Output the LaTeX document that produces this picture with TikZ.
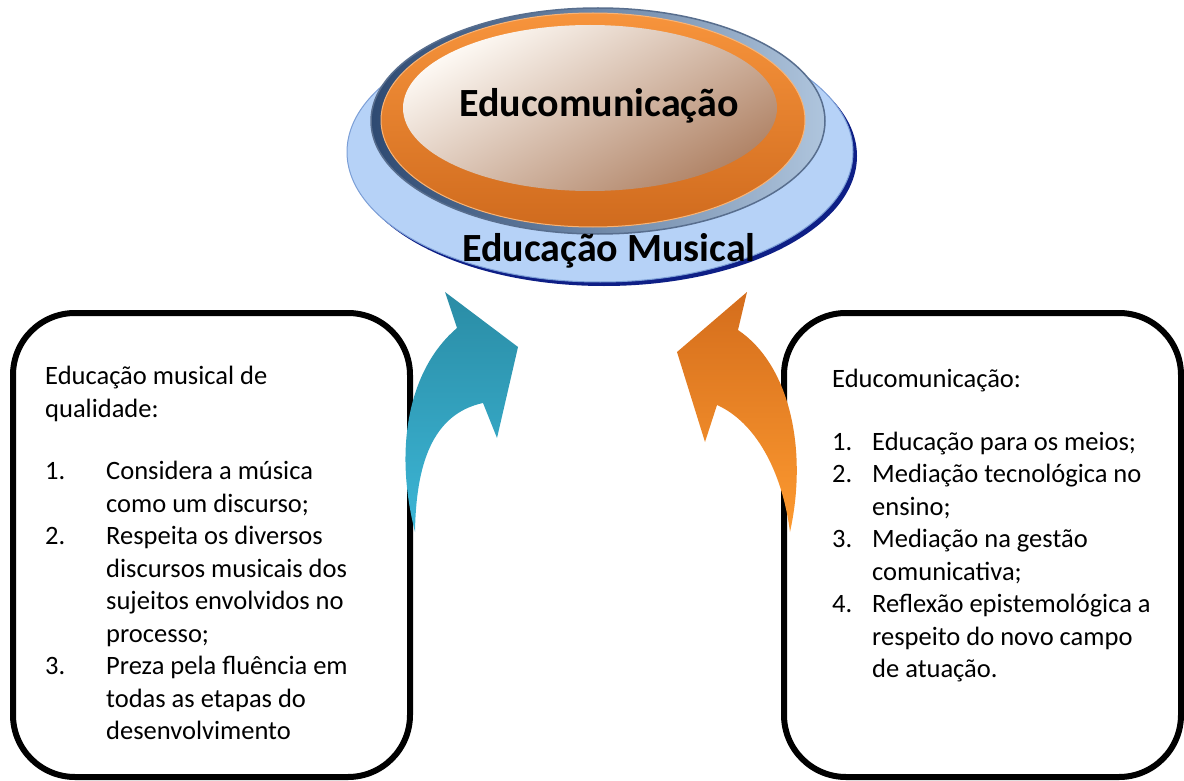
\documentclass[tikz,border=0pt]{standalone}
\usepackage{fontspec}
\setmainfont{Carlito}
\usetikzlibrary{positioning,shapes.geometric}

\definecolor{rimnavy}{HTML}{0E1F86}
\definecolor{baseblue}{HTML}{B6D2F7}
\definecolor{baseedge}{HTML}{7B9ED6}
\definecolor{ringdark}{HTML}{2E4A72}
\definecolor{ringlight}{HTML}{AFC5DD}
\definecolor{orangetop}{HTML}{F7943C}
\definecolor{orangebot}{HTML}{D06B1E}
\definecolor{creamlight}{HTML}{FEFAF5}
\definecolor{creamdark}{HTML}{B08366}
\definecolor{bluearrowtop}{HTML}{2A8CA5}
\definecolor{bluearrowbot}{HTML}{3CB6D6}
\definecolor{orangearrowtop}{HTML}{D46D1C}
\definecolor{orangearrowbot}{HTML}{FD9A30}

\newcommand\numlabel[2]{\makebox[#1][l]{#2}}

\begin{document}
\begin{tikzpicture}[x=1pt,y=-1pt,
  layer/.style={ellipse, inner sep=0pt},
  heading/.style={font=\bfseries\fontsize{40}{44}\selectfont},
  listbox/.style={draw=black, line width=6pt, rounded corners=62pt,
    minimum width=397pt, minimum height=464pt},
  listtext/.style={anchor=north west, align=left, inner sep=0pt,
    font=\fontsize{26.5}{32.5}\selectfont}]
  \useasboundingbox (0,0) rectangle (1184,781);

  % stacked discs
  \node[layer, fill=rimnavy, minimum width=506pt, minimum height=260pt] (rim) at (604,156) {};
  \node[layer, fill=baseblue, draw=baseedge, line width=1pt,
    minimum width=506pt, minimum height=260pt] (base) at (600,152) {};
  \node[layer, left color=ringdark, right color=ringlight, draw=ringdark!80, line width=1.5pt,
    minimum width=454pt, minimum height=226pt] (ring) at (598,121) {};
  \node[layer, top color=orangetop, bottom color=orangebot, draw=orangetop!70!white, line width=1pt,
    minimum width=424pt, minimum height=214pt] (outer) at (593,120) {};
  \node[layer, top color=creamlight, bottom color=creamdark, shading angle=30,
    minimum width=374pt, minimum height=166pt] (inner) at (590,108) {};
  \node[heading] (title) at (599,106) {Educomunicação};
  \node[heading] (basetitle) at (609,251) {Educação Musical};

  % boxes
  \node[listbox] (leftbox) at (211.5,545) {};
  \node[listbox] (rightbox) at (982.5,545) {};

  \node[listtext] (lefttext) at (45,366) {Educação musical de\\
    qualidade:\\[30pt]
    \numlabel{61pt}{1.}Considera a música\\
    \hspace*{61pt}como um discurso;\\
    \numlabel{61pt}{2.}Respeita os diversos\\
    \hspace*{61pt}discursos musicais dos\\
    \hspace*{61pt}sujeitos envolvidos no\\
    \hspace*{61pt}processo;\\
    \numlabel{61pt}{3.}Preza pela fluência em\\
    \hspace*{61pt}todas as etapas do\\
    \hspace*{61pt}desenvolvimento};
  \node[listtext] (righttext) at (832,369) {Educomunicação:\\[30pt]
    \numlabel{40pt}{1.}Educação para os meios;\\
    \numlabel{40pt}{2.}Mediação tecnológica no\\
    \hspace*{40pt}ensino;\\
    \numlabel{40pt}{3.}Mediação na gestão\\
    \hspace*{40pt}comunicativa;\\
    \numlabel{40pt}{4.}Reflexão epistemológica a\\
    \hspace*{40pt}respeito do novo campo\\
    \hspace*{40pt}de atuação.};

  % curved arrows
  \shade[top color=bluearrowtop, bottom color=bluearrowbot]
    (415,532) .. controls (393,445) and (410,368) .. (457,328) -- (445,292) -- (518,347)
    -- (497,438) -- (483,403) .. controls (432,414) and (416,465) .. (415,532) -- cycle;
  \shade[top color=orangearrowtop, bottom color=orangearrowbot]
    (677,352) -- (747,292) -- (738,330) .. controls (790,365) and (808,450) .. (790,532)
    .. controls (782,470) and (755,422) .. (717,405) -- (705,442) -- cycle;
\end{tikzpicture}
\end{document}
